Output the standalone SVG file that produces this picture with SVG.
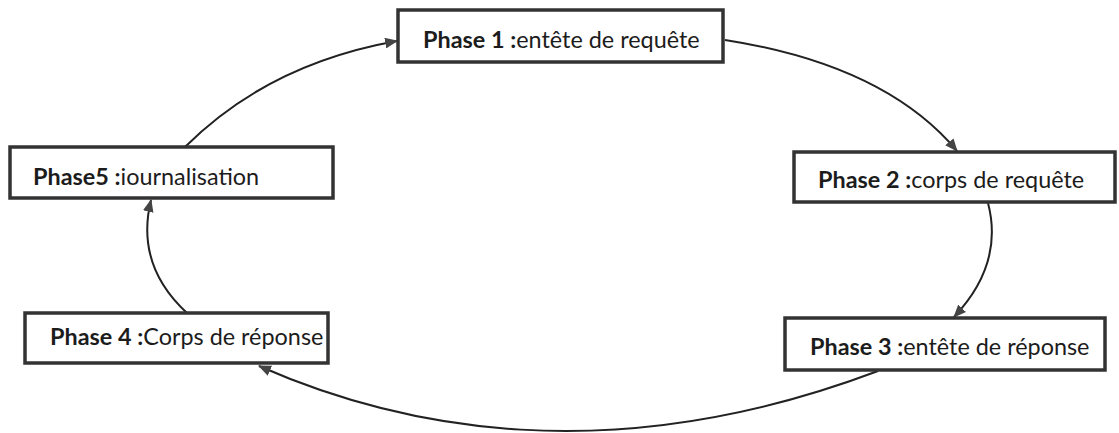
<svg xmlns="http://www.w3.org/2000/svg" width="1119" height="433" viewBox="0 0 1119 433">
<style>
.box{fill:#fff;stroke:#333;stroke-width:3.5}
.t{font-family:Lato,"Liberation Sans",sans-serif;font-size:23.4px;fill:#1c1c1c}
.b{font-weight:bold}
.c{fill:none;stroke:#222;stroke-width:2;marker-end:url(#ah)}
</style>
<defs>
<marker id="ah" viewBox="0 0 12 10" refX="11" refY="5" markerWidth="13" markerHeight="11" markerUnits="userSpaceOnUse" orient="auto">
<path d="M0,0 L12,5 L0,10 Z" fill="#444"/>
</marker>
</defs>
<rect width="1119" height="433" fill="#fff"/>
<g id="connectors">
<path class="c" d="M185,147 Q268,64 397,41"/>
<path class="c" d="M725,40 Q885,65 957,151"/>
<path class="c" d="M988,203 Q1004,264 954,317"/>
<path class="c" d="M878,371 C610,472 400,428 259,366"/>
<path class="c" d="M187,313 Q135,265 151,200"/>
</g>
<g id="phase1">
<rect class="box" x="398" y="10" width="325" height="52"/>
<text class="t" x="423" y="48"><tspan class="b">Phase 1 :</tspan>entête de requête</text>
</g>
<g id="phase2">
<rect class="box" x="794" y="152" width="321" height="50"/>
<text class="t" x="818" y="188"><tspan class="b">Phase 2 :</tspan>corps de requête</text>
</g>
<g id="phase3">
<rect class="box" x="785" y="318" width="320" height="52"/>
<text class="t" x="810" y="355"><tspan class="b">Phase 3 :</tspan>entête de réponse</text>
</g>
<g id="phase4">
<rect class="box" x="25" y="313" width="303" height="50"/>
<text class="t" x="50" y="345"><tspan class="b">Phase 4 :</tspan>Corps de réponse</text>
</g>
<g id="phase5">
<rect class="box" x="10" y="147" width="323" height="51"/>
<text class="t" x="33" y="185"><tspan class="b">Phase5 :</tspan>iournalisation</text>
</g>
</svg>
